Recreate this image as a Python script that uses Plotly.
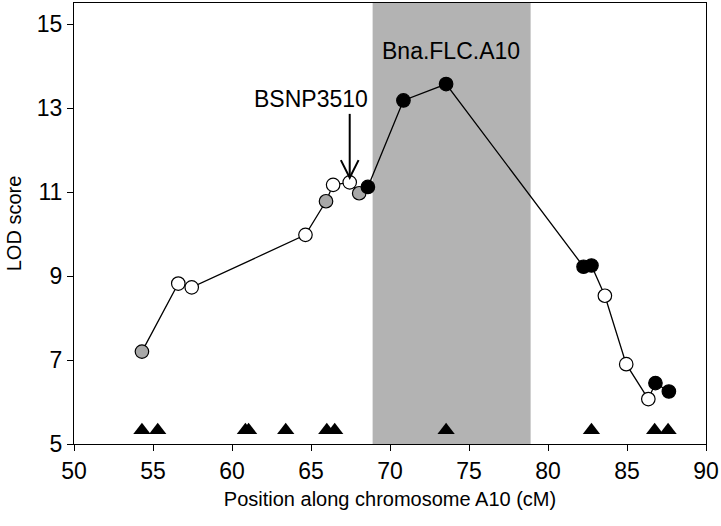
import plotly.graph_objects as go

# Data
positions = [54.3, 56.6, 57.45, 64.65, 65.95, 66.4, 67.45, 68.05, 68.6, 70.85, 73.55,
             82.25, 82.75, 83.6, 84.95, 86.35, 86.8, 87.65]
lod_scores = [7.2, 8.82, 8.73, 9.98, 10.78, 11.17, 11.23, 10.97, 11.12, 13.18, 13.57,
              9.22, 9.25, 8.53, 6.9, 6.07, 6.45, 6.25]
marker_class = ["gray", "open", "open", "open", "gray", "open", "open", "gray", "black",
                "black", "black", "black", "black", "open", "open", "open", "black", "black"]
triangle_positions = [54.3, 55.3, 60.85, 61.05, 63.4, 66.0, 66.5, 73.55, 82.75, 86.75, 87.6]
qtl_interval = [68.9, 78.9]
x_ticks = [50, 55, 60, 65, 70, 75, 80, 85, 90]
y_ticks = [5, 7, 9, 11, 13, 15]

fill_map = {"gray": "#a8a8a8", "open": "white", "black": "black"}
FONT = "Liberation Sans, Arial, sans-serif"
FS = 23
FT = 20

fig = go.Figure()

fig.add_shape(type="rect", xref="x", yref="paper", x0=qtl_interval[0], x1=qtl_interval[1],
              y0=0, y1=1, fillcolor="#b3b3b3", line_width=0, layer="below")

fig.add_trace(go.Scatter(
    x=positions, y=lod_scores, mode="lines+markers",
    line=dict(color="black", width=1.3),
    marker=dict(size=13.5, color=[fill_map[c] for c in marker_class],
                line=dict(color="black", width=1.2)),
    showlegend=False, hoverinfo="x+y"))

fig.add_trace(go.Scatter(
    x=triangle_positions, y=[5.33] * len(triangle_positions), mode="markers",
    marker=dict(symbol="triangle-up", size=15, color="black", line=dict(width=0)),
    showlegend=False))

# Arrow to BSNP3510
ax_x = positions[6]
fig.add_shape(type="line", xref="x", yref="y", x0=ax_x, x1=ax_x, y0=12.86, y1=11.36,
              line=dict(color="black", width=2))
fig.add_shape(type="path", xref="x", yref="y",
              path=f"M {ax_x-0.56} 11.76 L {ax_x} 11.34 L {ax_x+0.56} 11.76",
              line=dict(color="black", width=2))

fig.add_annotation(x=65.0, y=13.21, text="BSNP3510", showarrow=False,
                   font=dict(family=FONT, size=FS, color="black"))
fig.add_annotation(x=73.87, y=14.36, text="Bna.FLC.A10", showarrow=False,
                   font=dict(family=FONT, size=FS, color="black"))

fig.update_xaxes(range=[50, 90], tickvals=x_ticks, ticks="outside", ticklen=6,
                 tickcolor="black", showline=True, linecolor="black", linewidth=1,
                 mirror=True, showgrid=False, zeroline=False,
                 tickfont=dict(family=FONT, size=FS, color="black"),
                 title=dict(text="Position along chromosome A10 (cM)",
                            font=dict(family=FONT, size=FT, color="black"), standoff=9))
fig.update_yaxes(range=[5, 15.5], tickvals=y_ticks, ticks="outside", ticklen=6,
                 tickcolor="black", showline=True, linecolor="black", linewidth=1,
                 mirror=True, showgrid=False, zeroline=False,
                 tickfont=dict(family=FONT, size=FS, color="black"),
                 title=dict(text="LOD score",
                            font=dict(family=FONT, size=FT, color="black"), standoff=9))

fig.update_layout(width=721, height=526, plot_bgcolor="white", paper_bgcolor="white",
                  margin=dict(l=74, r=15, t=3, b=82, autoexpand=False))

fig.write_html("out.html", config={"displayModeBar": False},
               post_script="document.body.style.margin='0';")
